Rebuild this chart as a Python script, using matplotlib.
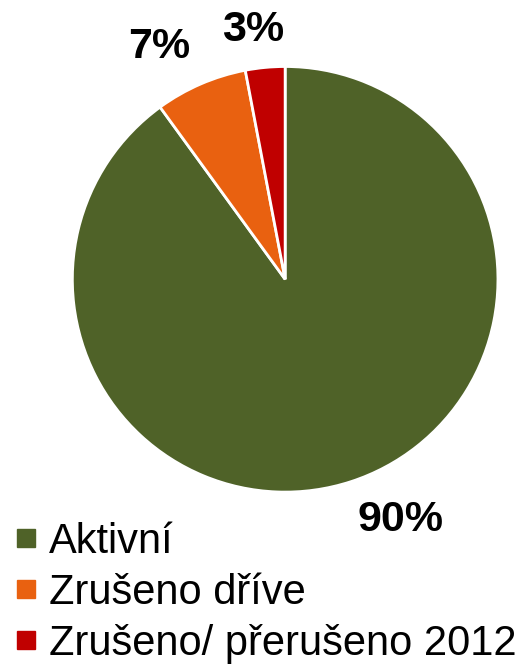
import matplotlib
matplotlib.use('Agg')
import matplotlib.pyplot as plt
from matplotlib.lines import Line2D

plt.rcParams['font.family'] = ['Liberation Sans', 'DejaVu Sans']

categories = ['Aktivní', 'Zrušeno dříve', 'Zrušeno/ přerušeno 2012']
shares = [90, 7, 3]
pct_labels = ['90%', '7%', '3%']
colors = ['#4F6228', '#E96110', '#C00000']

# label positions in data units (Excel "best fit" placement)
label_pos = [(0.54, -1.13), (-0.59, 1.09), (-0.15, 1.17)]

fig = plt.figure(figsize=(5.32, 6.65), dpi=100)
ax = fig.add_axes([0.136, 0.26, 0.8, 0.64])

wedges, _ = ax.pie(shares, colors=colors, startangle=90, counterclock=False,
                   wedgeprops={'edgecolor': 'white', 'linewidth': 2})
for txt, (x, y) in zip(pct_labels, label_pos):
    ax.text(x, y, txt, ha='center', va='center', fontsize=31, fontweight='bold')
ax.set_xlim(-1, 1)
ax.set_ylim(-1, 1)
ax.set_aspect('equal')

handles = [Line2D([], [], marker='s', linestyle='none', markersize=13,
                  markerfacecolor=c, markeredgecolor=c) for c in colors]
fig.legend(handles, categories, loc='upper left', bbox_to_anchor=(0.03, 0.215),
           frameon=False, fontsize=30, handlelength=0.5, handletextpad=0.3,
           labelspacing=0.26, borderaxespad=0, borderpad=0)

fig.savefig('out.png', dpi=100)
